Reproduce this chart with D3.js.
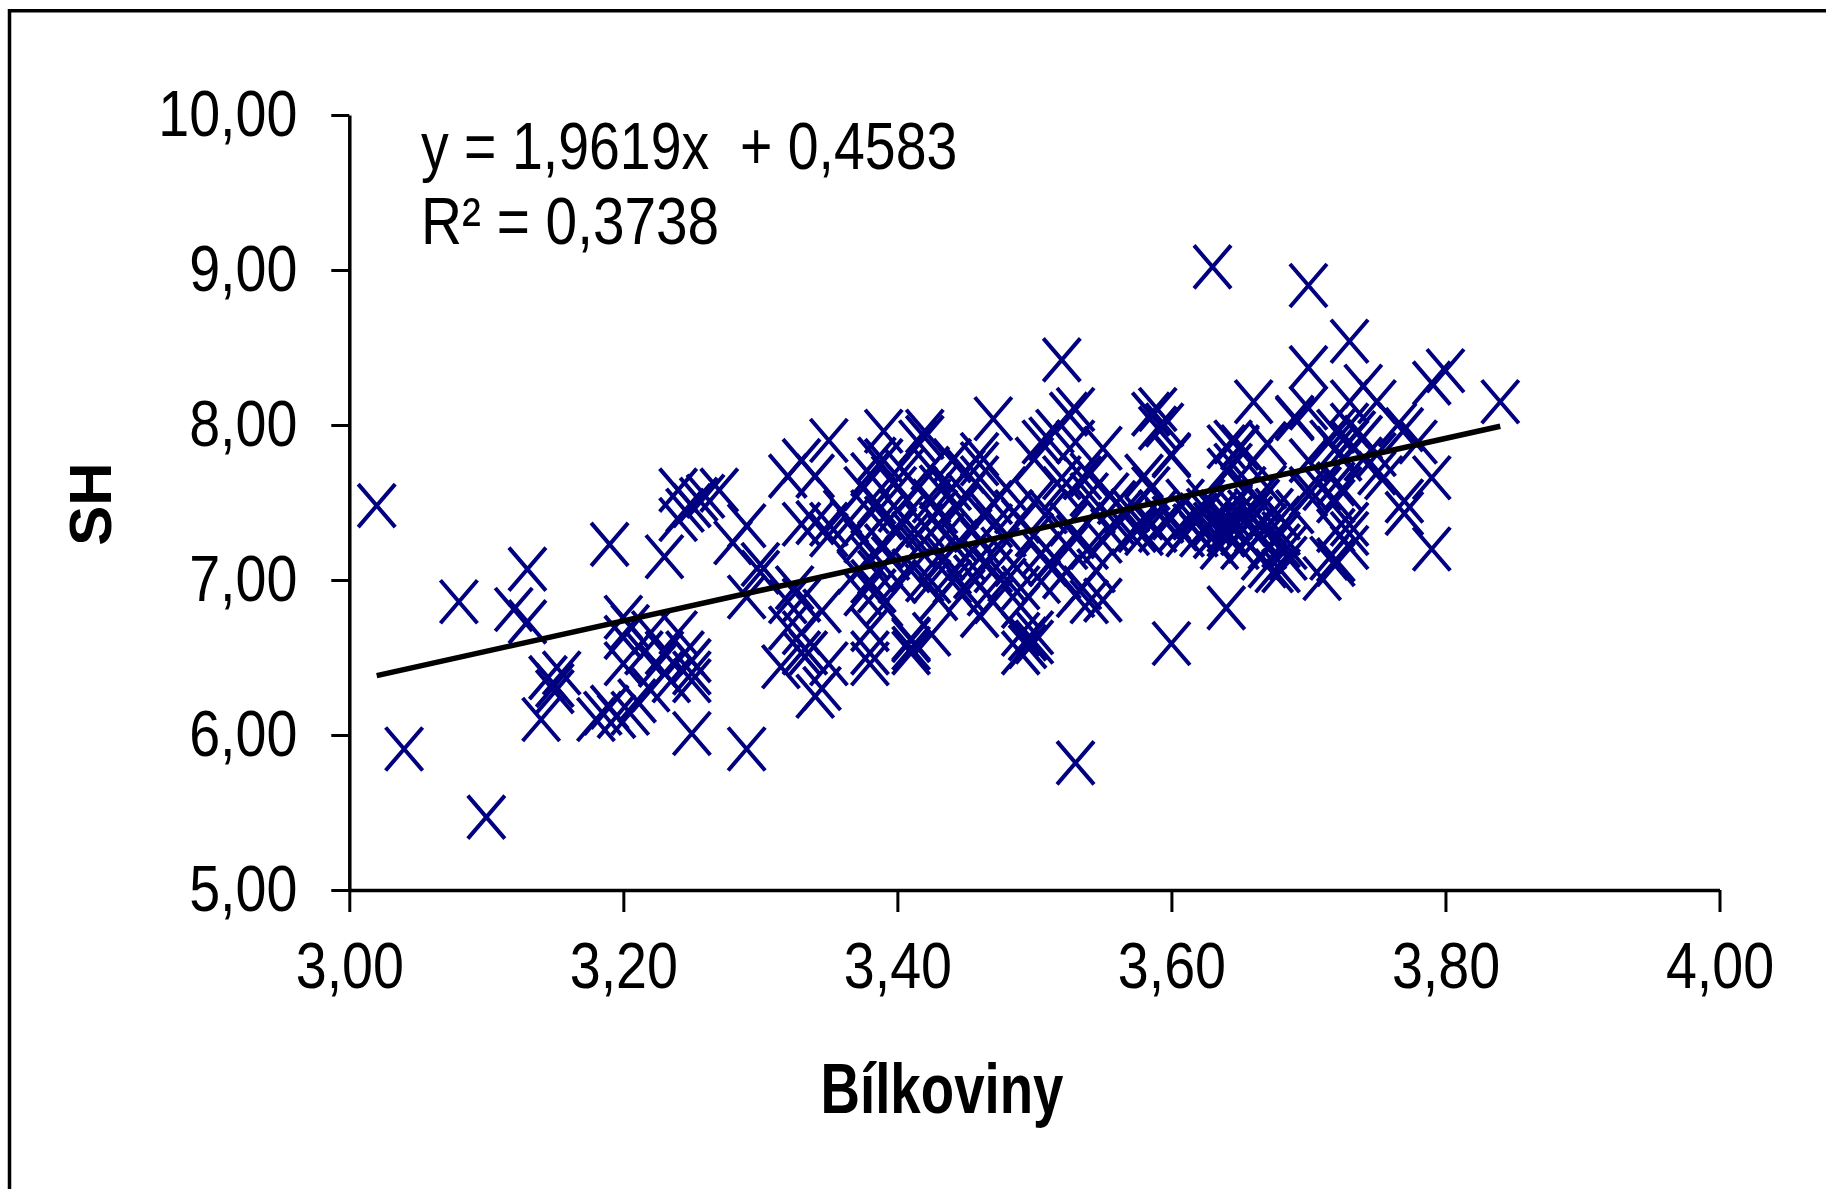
<!DOCTYPE html>
<html>
<head>
<meta charset="utf-8">
<script src="https://cdn.jsdelivr.net/npm/d3@7"></script>
<style>
  html, body { margin: 0; padding: 0; background: #fff; }
  svg { display: block; }
  text { font-family: "Liberation Sans", Arial, sans-serif; fill: #000; }
</style>
</head>
<body>
<svg id="chart" width="1826" height="1189"></svg>
<script>
// Bílkoviny (x) vs SH (y) observations, grouped by protein range
const band300 = [[3.02,7.48],[3.04,5.91],[3.08,6.86],[3.10,5.47],[3.12,6.81],[3.13,7.07],[3.13,6.73],[3.14,6.10],[3.145,6.37],[3.15,6.32],[3.155,6.40],[3.15,6.28]];
const band318 = [[3.19,7.23],[3.18,6.10],[3.185,6.14],[3.19,6.18],[3.195,6.12],[3.205,6.14],[3.20,6.76],[3.205,6.70],[3.20,6.63],[3.20,6.46],[3.215,6.53],[3.22,6.29],[3.22,6.66],[3.23,6.53],[3.23,6.40],[3.235,6.35],[3.24,6.66],[3.245,6.53],[3.25,6.48],[3.25,6.40],[3.25,6.35],[3.25,6.01],[3.23,7.15],[3.24,7.58],[3.25,7.48],[3.26,7.54],[3.24,7.39],[3.27,7.58],[3.245,7.45],[3.255,7.52],[3.29,7.35],[3.28,7.24],[3.30,7.10],[3.29,6.89],[3.29,5.91],[3.21,6.22],[3.225,6.45],[3.30,7.05]];
const band331 = [[3.32,7.67],[3.34,7.67],[3.33,7.77],[3.34,7.37],[3.35,7.90],[3.33,6.87],[3.33,6.66],[3.335,6.53],[3.33,6.53],[3.34,6.25],[3.35,7.36],[3.33,7.36],[3.32,6.86],[3.315,6.44],[3.32,6.69],[3.35,6.46],[3.345,6.30],[3.38,6.46],[3.38,6.68],[3.375,6.91],[3.38,7.14],[3.38,7.44],[3.375,7.59],[3.385,7.78],[3.39,7.96],[3.37,7.32],[3.40,7.32],[3.40,6.99],[3.39,6.84],[3.40,7.59],[3.395,7.66],[3.395,7.14],[3.38,6.99],[3.36,7.44],[3.35,7.29],[3.38,6.53],[3.385,6.93],[3.39,7.77],[3.38,7.68],[3.37,7.05],[3.39,7.22],[3.385,7.50],[3.365,7.38],[3.325,6.95],[3.345,6.80],[3.375,7.25],[3.39,7.40],[3.385,7.05]];
const band340 = [[3.415,7.89],[3.42,7.96],[3.41,6.61],[3.41,6.53],[3.425,6.65],[3.44,7.77],[3.44,7.59],[3.43,7.44],[3.415,7.21],[3.425,6.99],[3.41,7.06],[3.45,7.14],[3.455,7.32],[3.465,7.44],[3.47,8.04],[3.48,7.59],[3.46,7.66],[3.46,7.81],[3.445,7.47],[3.445,7.25],[3.46,7.14],[3.465,6.91],[3.47,7.06],[3.48,7.29],[3.485,7.44],[3.49,6.65],[3.495,6.57],[3.49,6.83],[3.49,6.95],[3.435,7.14],[3.435,7.29],[3.415,7.59],[3.425,7.51],[3.44,6.99],[3.42,7.92],[3.424,7.72],[3.45,7.70],[3.46,7.75],[3.405,7.40],[3.41,7.30],[3.42,7.00],[3.43,6.88],[3.45,6.93],[3.47,6.86],[3.46,6.77],[3.49,6.53],[3.495,6.62],[3.41,6.62],[3.41,6.56],[3.43,7.15],[3.455,7.02],[3.475,7.20],[3.49,7.38],[3.50,7.50],[3.405,7.70],[3.43,7.36],[3.45,7.55],[3.47,7.50],[3.485,7.10],[3.40,7.45],[3.42,7.35],[3.44,7.05],[3.46,7.25],[3.48,7.00],[3.43,7.60],[3.47,7.35]];
const band350 = [[3.52,8.42],[3.53,5.82],[3.505,7.89],[3.515,7.96],[3.525,8.07],[3.53,7.89],[3.55,7.85],[3.535,7.66],[3.52,7.59],[3.51,7.44],[3.525,7.36],[3.50,7.29],[3.505,7.17],[3.515,7.14],[3.525,7.21],[3.54,7.21],[3.545,7.06],[3.535,6.95],[3.55,6.87],[3.505,6.99],[3.52,7.02],[3.545,7.44],[3.555,7.55],[3.555,7.32],[3.565,7.44],[3.575,7.32],[3.58,7.40],[3.59,7.44],[3.59,7.32],[3.585,7.59],[3.585,8.07],[3.595,8.00],[3.60,7.81],[3.60,6.59],[3.56,7.36],[3.57,7.45],[3.53,8.10],[3.59,8.10],[3.59,7.98],[3.58,7.67],[3.54,7.68],[3.52,7.66],[3.50,7.78],[3.51,7.91],[3.53,6.90],[3.54,6.86],[3.51,7.10],[3.53,7.28],[3.55,7.25],[3.57,7.30],[3.58,7.30],[3.595,7.38],[3.56,7.50],[3.54,7.55],[3.50,6.60],[3.50,6.66]];
const band360 = [[3.63,9.02],[3.61,7.51],[3.615,7.40],[3.63,7.36],[3.62,7.29],[3.635,7.44],[3.64,7.29],[3.645,7.74],[3.65,7.85],[3.66,8.15],[3.645,7.89],[3.655,7.59],[3.655,7.44],[3.66,7.32],[3.65,7.21],[3.665,7.51],[3.665,7.29],[3.67,7.21],[3.675,7.06],[3.665,7.14],[3.68,7.40],[3.69,8.04],[3.64,6.82],[3.625,7.51],[3.635,7.21],[3.645,7.47],[3.655,7.36],[3.64,7.32],[3.61,7.29],[3.60,7.40],[3.605,7.33],[3.62,7.42],[3.63,7.28],[3.64,7.38],[3.65,7.30],[3.66,7.40],[3.67,7.35],[3.675,7.45],[3.68,7.30],[3.685,7.21],[3.67,7.60],[3.64,7.71],[3.66,7.77],[3.60,7.80],[3.64,7.86],[3.65,7.86],[3.67,7.88],[3.69,7.44],[3.685,7.14],[3.68,7.06],[3.67,7.09],[3.68,7.22],[3.69,8.05],[3.70,7.77],[3.615,7.35],[3.625,7.45],[3.645,7.40],[3.655,7.25],[3.66,7.45]];
const band370 = [[3.70,8.90],[3.73,8.54],[3.70,8.37],[3.80,8.35],[3.79,8.27],[3.84,8.15],[3.70,8.11],[3.73,8.15],[3.75,8.15],[3.765,8.00],[3.78,7.89],[3.72,7.96],[3.73,7.89],[3.715,7.89],[3.725,7.78],[3.74,7.78],[3.75,7.81],[3.79,7.66],[3.70,7.59],[3.71,7.59],[3.72,7.51],[3.725,7.59],[3.755,7.66],[3.77,7.51],[3.77,7.43],[3.79,7.20],[3.73,7.36],[3.72,7.32],[3.73,7.21],[3.715,7.14],[3.71,7.01],[3.72,7.10],[3.72,7.13],[3.735,7.95],[3.74,7.92],[3.72,7.85],[3.73,8.00],[3.75,7.69],[3.72,7.62],[3.70,7.55],[3.73,7.30],[3.77,7.97],[3.74,8.25]];

// Axis ticks
const xTicks = [3.0, 3.2, 3.4, 3.6, 3.8, 4.0];
const yTicks = [5, 6, 7, 8, 9, 10];

// Linear trend (least squares) as reported on the chart
const slope = 1.9619;
const intercept = 0.4583;
const rSquared = 0.3738;

const points = [].concat(band300, band318, band331, band340, band350, band360, band370);

const svg = d3.select("#chart");
const fmt = v => v.toFixed(2).replace(".", ",");
const fmt4 = v => v.toFixed(4).replace(".", ",");

// outer frame (left and top edges are visible)
svg.append("path")
  .attr("d", "M9.5,1300V10.8H1900")
  .attr("fill", "none").attr("stroke", "#000").attr("stroke-width", 3.5);

const x = d3.scaleLinear().domain([3, 4]).range([349.3, 1719.5]);
const y = d3.scaleLinear().domain([5, 10]).range([890, 115]);

// condense text horizontally like the narrow chart lettering
function condense(sel, k) {
  sel.each(function () {
    const w = this.getComputedTextLength();
    d3.select(this).attr("textLength", w * k).attr("lengthAdjust", "spacingAndGlyphs");
  });
}

const yAxis = svg.append("g")
  .attr("transform", `translate(${x(3)},0)`)
  .call(d3.axisLeft(y).tickValues(yTicks).tickSize(18).tickSizeOuter(0).tickPadding(34).tickFormat(fmt));
const xAxis = svg.append("g")
  .attr("transform", `translate(0,${y(5)})`)
  .call(d3.axisBottom(x).tickValues(xTicks).tickSize(22).tickSizeOuter(0).tickPadding(30).tickFormat(fmt));

[yAxis, xAxis].forEach(g => {
  g.select(".domain").attr("stroke", "#000").attr("stroke-width", 3.5);
  g.selectAll(".tick line").attr("stroke", "#000").attr("stroke-width", 3);
  g.selectAll(".tick text")
    .attr("font-family", "'Liberation Sans', Arial, sans-serif")
    .attr("font-size", 65).attr("fill", "#000")
    .call(condense, 0.855);
});

// scatter markers: navy X crosses
const hw = 18.5, hh = 21.5;
svg.append("g")
  .selectAll("path")
  .data(points)
  .join("path")
  .attr("transform", d => `translate(${x(d[0])},${y(d[1])})`)
  .attr("d", `M${-hw},${-hh}L${hw},${hh}M${-hw},${hh}L${hw},${-hh}`)
  .attr("fill", "none")
  .attr("stroke", "#000080")
  .attr("stroke-width", 4);

// trend line over the observed protein range
const [xMin, xMax] = d3.extent(points, d => d[0]);
svg.append("line")
  .attr("x1", x(xMin)).attr("y1", y(slope * xMin + intercept))
  .attr("x2", x(xMax)).attr("y2", y(slope * xMax + intercept))
  .attr("stroke", "#000").attr("stroke-width", 5.5);

// regression equation
svg.append("text")
  .attr("x", 421).attr("y", 168.5)
  .attr("font-size", 66)
  .style("white-space", "pre")
  .text(`y = ${fmt4(slope)}x  + ${fmt4(intercept)}`)
  .call(condense, 0.84);
svg.append("text")
  .attr("x", 421).attr("y", 243.5)
  .attr("font-size", 66)
  .style("white-space", "pre")
  .text(`R² = ${fmt4(rSquared)}`)
  .call(condense, 0.86);

// axis titles
svg.append("text")
  .attr("x", 942).attr("y", 1113)
  .attr("text-anchor", "middle")
  .attr("font-size", 71).attr("font-weight", "bold")
  .text("Bílkoviny")
  .call(condense, 0.77);
svg.append("text")
  .attr("transform", "translate(110.5,504) rotate(-90)")
  .attr("text-anchor", "middle")
  .attr("font-size", 60).attr("font-weight", "bold")
  .text("SH");
</script>
</body>
</html>
